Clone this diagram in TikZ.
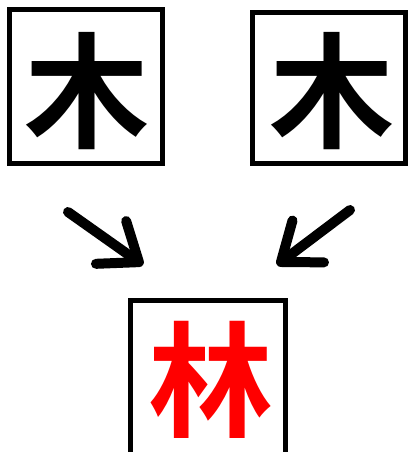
\documentclass[tikz,border=0pt]{standalone}
\usepackage{fontspec}
\newfontfamily\cjk{Noto Sans CJK SC}[BoldFont=Noto Sans CJK SC Bold]
\usetikzlibrary{arrows.meta}
\pgfdeclarelayer{edgelayer}
\pgfdeclarelayer{nodelayer}
\pgfsetlayers{edgelayer,nodelayer,main}
\tikzstyle{charbox}=[rectangle,fill=white,draw=black,line width=5pt,inner sep=0pt,minimum width=153pt,minimum height=153pt]
\tikzstyle{glyph}=[inner sep=0pt,font=\cjk\bfseries\fontsize{125}{125}\selectfont]
\tikzstyle{combine}=[-{Straight Barb[angle=75:43pt,round]},line width=10pt,line cap=round,draw=black]

\begin{document}
\begin{tikzpicture}[x=1pt,y=-1pt]
	\useasboundingbox (0,0) rectangle (408,452);
	\begin{pgfonlayer}{edgelayer}
		\node [style=charbox] (tree1) at (86, 86.5) {};
		\node [style=charbox, minimum height=151pt] (tree2) at (328.5, 88) {};
		\node [style=charbox, minimum width=155pt, minimum height=155pt] (forest) at (208, 378) {};
	\end{pgfonlayer}
	\begin{pgfonlayer}{nodelayer}
		\node [style=glyph] (tree1char) at ([xshift=0.5pt, yshift=-4.5pt]tree1.center) {木};
		\node [style=glyph] (tree2char) at ([xshift=3pt, yshift=-3pt]tree2.center) {木};
		\node [style=glyph, text=red] (forestchar) at ([xshift=2.5pt, yshift=-1.5pt]forest.center) {林};
		\coordinate (a1) at (68, 212);
		\coordinate (b1) at (143, 265);
		\coordinate (a2) at (350, 210);
		\coordinate (b2) at (277, 265);
		\draw [style=combine] (a1) to (b1);
		\draw [style=combine] (a2) to (b2);
	\end{pgfonlayer}
\end{tikzpicture}
\end{document}
